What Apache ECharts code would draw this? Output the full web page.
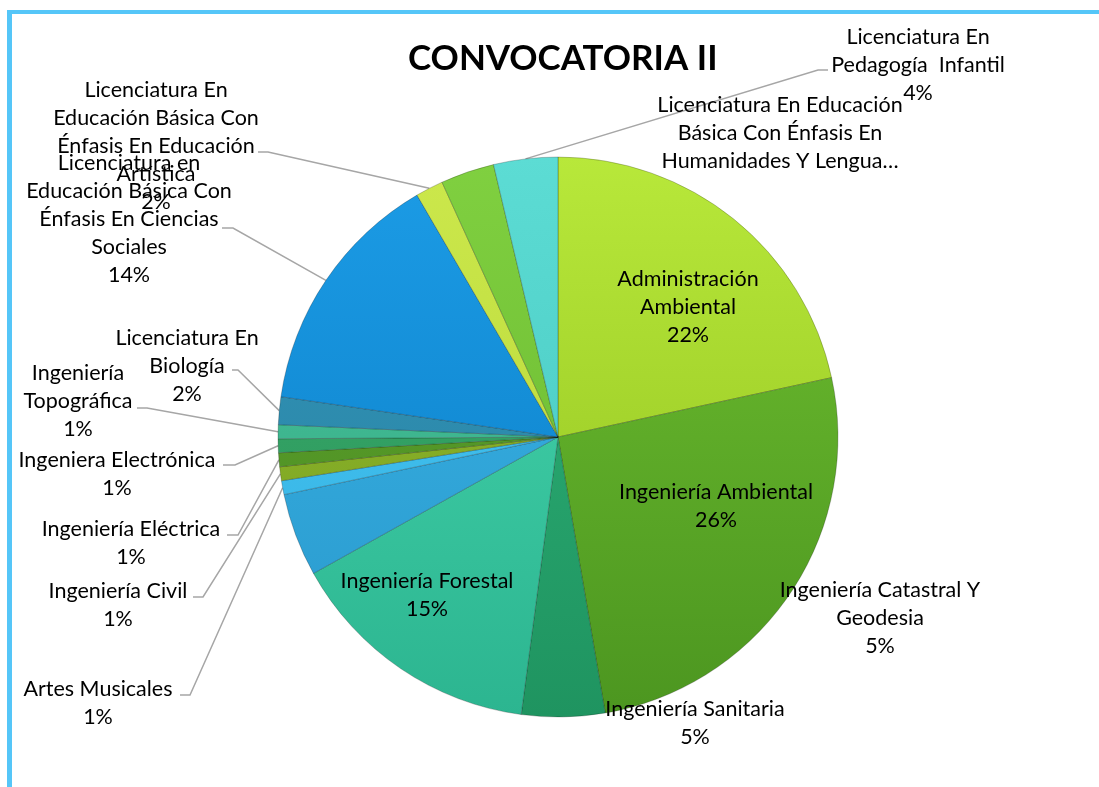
<!DOCTYPE html>
<html>
<head>
<meta charset="utf-8">
<title>Convocatoria II</title>
<script src="https://cdn.jsdelivr.net/npm/echarts@6/dist/echarts.min.js"></script>
<style>
  html, body { margin: 0; padding: 0; background: #fff; }
  #chart { width: 1099px; height: 787px; }
</style>
</head>
<body>
<div id="chart"></div>
<script>
// programas, en el orden de las porciones (sentido horario desde arriba)
const programs = [
  'Administración Ambiental',
  'Ingeniería Ambiental',
  'Ingeniería Sanitaria',
  'Ingeniería Forestal',
  'Ingeniería Catastral Y Geodesia',
  'Artes Musicales',
  'Ingeniería Civil',
  'Ingeniería Eléctrica',
  'Ingeniera Electrónica',
  'Ingeniería Topográfica',
  'Licenciatura En Biología',
  'Licenciatura en Educación Básica Con Énfasis En Ciencias Sociales',
  'Licenciatura En Educación Básica Con Énfasis En Educación Artística',
  'Licenciatura En Educación Básica Con Énfasis En Humanidades Y Lengua Castellana',
  'Licenciatura En Pedagogía Infantil'
]

// participación (%)
const shares = [21.6, 25.7, 4.8, 14.8, 4.8, 0.8, 0.8, 0.8, 0.8, 0.8, 1.6, 14.3, 1.6, 3.1, 3.7]

// texto de cada etiqueta, cortado como en el original
const labelTexts = [
  'Administración\nAmbiental',
  'Ingeniería Ambiental',
  'Ingeniería Sanitaria',
  'Ingeniería Forestal',
  'Ingeniería Catastral Y\nGeodesia',
  'Artes Musicales',
  'Ingeniería Civil',
  'Ingeniería Eléctrica',
  'Ingeniera Electrónica',
  'Ingeniería\nTopográfica',
  'Licenciatura En\nBiología',
  'Licenciatura en\nEducación Básica Con\nÉnfasis En Ciencias\nSociales',
  'Licenciatura En\nEducación Básica Con\nÉnfasis En Educación\nArtística',
  'Licenciatura En Educación\nBásica Con Énfasis En\nHumanidades Y Lengua…',
  'Licenciatura En\nPedagogía  Infantil'
]

// colores (arriba, abajo) de cada porción
const sliceColors = [
  ['#b8e83a', '#8fbf1e'],
  ['#70c030', '#4c9620'],
  ['#2fb47a', '#1f9460'],
  ['#48d8b0', '#2cb590'],
  ['#3cb6e8', '#2898cc'],
  ['#48c8f4', '#34b0e2'],
  ['#92ba2e', '#78a020'],
  ['#5ea42c', '#4a8a22'],
  ['#3aae6e', '#2a9258'],
  ['#48c49c', '#34a882'],
  ['#3496bc', '#26809e'],
  ['#1c9ce6', '#0a7cc4'],
  ['#cce84c', '#b4d434'],
  ['#80d040', '#66b42e'],
  ['#5cdcd4', '#44c4bc']
]

// posición de las etiquetas: centro x, borde superior y
const labelPos = [
  [688, 265], [716, 478], [695, 695], [427, 567], [880, 576],
  [98, 675], [118, 577], [131, 515], [117, 446], [78, 359],
  [187, 324], [129, 149], [156, 76], [780, 91], [918, 23]
]

// líneas guía: extremo junto a la etiqueta y codo
const leaderEnds = {
  5: [[180, 695], [190, 695]],
  6: [[193, 597], [203, 597]],
  7: [[227, 535], [238, 535]],
  8: [[223, 465], [235, 465]],
  9: [[137, 408], [147, 408]],
  10: [[232, 370], [238, 370]],
  11: [[222, 228], [233, 228]],
  12: [[258, 152], [268, 152]],
  14: [[828, 70], [818, 70]]
}

const chart = echarts.init(document.getElementById('chart'))

const pieData = programs.map((name, i) => ({
  name: name,
  value: shares[i],
  itemStyle: {
    color: {
      type: 'linear', x: 0, y: 157, x2: 0, y2: 717, global: true,
      colorStops: [
        { offset: 0, color: sliceColors[i][0] },
        { offset: 1, color: sliceColors[i][1] }
      ]
    }
  },
  labelLine: { show: leaderEnds[i] !== undefined }
}))

chart.setOption({
  animation: false,
  title: {
    text: 'CONVOCATORIA II',
    left: 403,
    top: 36,
    textStyle: { fontFamily: 'Lato', fontSize: 35, fontWeight: 'bold', color: '#000' }
  },
  graphic: [
    { type: 'rect', shape: { x: 7, y: 10, width: 1092, height: 4 }, style: { fill: '#55c6f8' } },
    { type: 'rect', shape: { x: 7, y: 10, width: 5, height: 777 }, style: { fill: '#55c6f8' } }
  ],
  series: [
    {
      type: 'pie',
      center: [558, 437],
      radius: 280,
      startAngle: 90,
      clockwise: true,
      avoidLabelOverlap: false,
      minShowLabelAngle: 0,
      itemStyle: {
        borderColor: 'rgba(0, 0, 0, 0.22)',
        borderWidth: 1
      },
      label: {
        show: true,
        position: 'outside',
        fontFamily: 'Lato',
        fontSize: 21.5,
        lineHeight: 28,
        color: '#000',
        formatter: p => {
          const text = labelTexts[p.dataIndex]
          if (text.endsWith('…')) {
            return text
          }
          return text + '\n' + Math.round(p.percent) + '%'
        }
      },
      labelLine: {
        lineStyle: { color: '#a6a6a6', width: 1.5 }
      },
      labelLayout: params => {
        const i = params.dataIndex
        const out = { x: labelPos[i][0], y: labelPos[i][1], align: 'center', verticalAlign: 'top' }
        const ends = leaderEnds[i]
        if (ends && params.labelLinePoints) {
          out.labelLinePoints = [params.labelLinePoints[0], ends[1], ends[0]]
        }
        return out
      },
      emphasis: { scale: false },
      data: pieData
    }
  ]
})
</script>
</body>
</html>
